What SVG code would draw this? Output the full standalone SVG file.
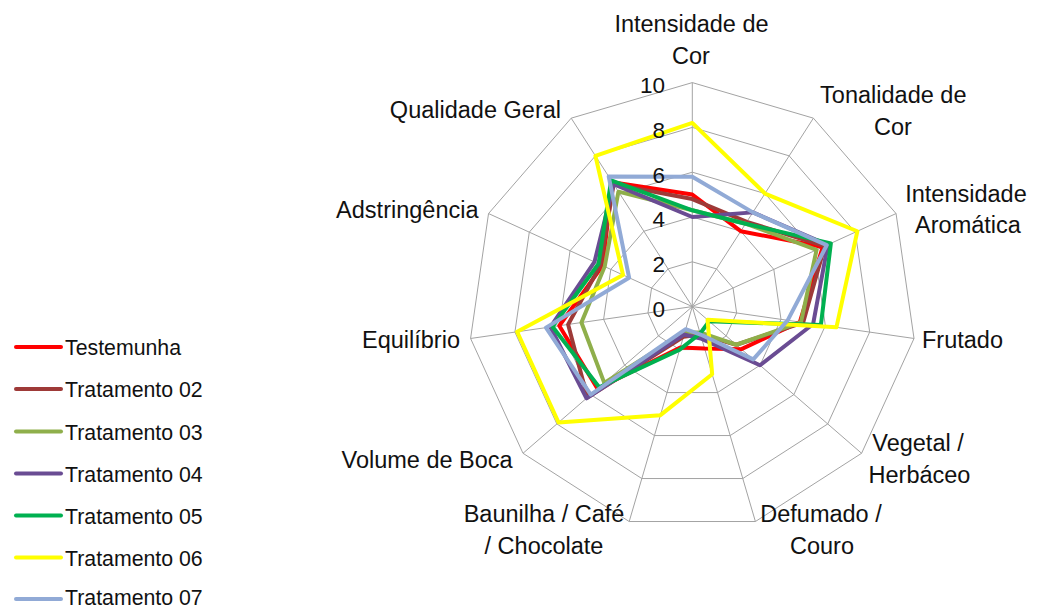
<svg xmlns="http://www.w3.org/2000/svg" width="1040" height="609" viewBox="0 0 1040 609">
<style>
text{font-family:"Liberation Sans",Arial,sans-serif;fill:#111}
.lab{font-size:23.5px}
.mid{text-anchor:middle}
.end{text-anchor:end}
.tick{font-size:22.5px;text-anchor:end}
.leg{font-size:21.3px}
.grid{fill:none;stroke:#A3A3A3;stroke-width:1}
.s{fill:none;stroke-width:4;stroke-linejoin:round}
</style>
<rect width="1040" height="609" fill="#fff"/>
<g id="grid" transform="translate(692.3,306.6)">
<polygon class="grid" points="0,-44.8 24.22,-37.69 40.75,-18.61 44.34,6.38 33.86,29.34 12.62,42.99 -12.62,42.99 -33.86,29.34 -44.34,6.38 -40.75,-18.61 -24.22,-37.69"/>
<polygon class="grid" points="0,-89.6 48.44,-75.38 81.5,-37.22 88.69,12.75 67.72,58.68 25.24,85.97 -25.24,85.97 -67.72,58.68 -88.69,12.75 -81.5,-37.22 -48.44,-75.38"/>
<polygon class="grid" points="0,-134.4 72.66,-113.06 122.26,-55.83 133.03,19.13 101.57,88.01 37.87,128.96 -37.87,128.96 -101.57,88.01 -133.03,19.13 -122.26,-55.83 -72.66,-113.06"/>
<polygon class="grid" points="0,-179.2 96.88,-150.75 163.01,-74.44 177.38,25.5 135.43,117.35 50.49,171.94 -50.49,171.94 -135.43,117.35 -177.38,25.5 -163.01,-74.44 -96.88,-150.75"/>
<polygon class="grid" points="0,-224 121.1,-188.44 203.76,-93.05 221.72,31.88 169.29,146.69 63.11,214.93 -63.11,214.93 -169.29,146.69 -221.72,31.88 -203.76,-93.05 -121.1,-188.44"/>
<path class="grid" d="M0,0V-224M0,0L121.1,-188.44M0,0L203.76,-93.05M0,0L221.72,31.88M0,0L169.29,146.69M0,0L63.11,214.93M0,0L-63.11,214.93M0,0L-169.29,146.69M0,0L-221.72,31.88M0,0L-203.76,-93.05M0,0L-121.1,-188.44"/>
</g>
<g id="axis-labels">
<text class="lab mid" x="691.5" y="31.7">Intensidade de</text>
<text class="lab mid" x="691" y="63.5">Cor</text>
<text class="lab mid" x="893.3" y="103.3">Tonalidade de</text>
<text class="lab mid" x="893" y="135">Cor</text>
<text class="lab mid" x="966" y="201.7">Intensidade</text>
<text class="lab mid" x="968" y="233.3">Aromática</text>
<text class="lab" x="922" y="348">Frutado</text>
<text class="lab mid" x="918" y="451">Vegetal /</text>
<text class="lab mid" x="919.5" y="483">Herbáceo</text>
<text class="lab mid" x="821" y="522">Defumado /</text>
<text class="lab mid" x="822" y="554">Couro</text>
<text class="lab mid" x="544" y="522">Baunilha / Café</text>
<text class="lab mid" x="544" y="554">/ Chocolate</text>
<text class="lab end" x="512.7" y="468">Volume de Boca</text>
<text class="lab end" x="460" y="348">Equilíbrio</text>
<text class="lab end" x="478.5" y="218.3">Adstringência</text>
<text class="lab end" x="561" y="118.3">Qualidade Geral</text>
</g>
<g id="series" transform="translate(692.3,306.6)">
<polygon id="testemunha" class="s" stroke="#FF0000" points="0,-112 48.44,-75.38 130.41,-59.55 107.53,15.46 49.09,42.54 12.31,41.91 -11.99,40.84 -94.8,82.15 -133.03,19.13 -89.65,-40.94 -79.93,-124.37"/>
<polygon id="tratamento02" class="s" stroke="#9E3A38" points="0,-107.52 54.5,-84.8 132.44,-60.48 110.86,15.94 44.02,38.14 8.2,27.94 -8.84,30.09 -104.96,90.95 -124.16,17.85 -91.69,-41.87 -78.72,-122.49"/>
<polygon id="tratamento03" class="s" stroke="#8FAF4B" points="0,-96.32 53.28,-82.91 124.29,-56.76 108.64,15.62 44.02,38.14 7.57,25.79 -7.57,25.79 -88.03,76.28 -110.86,15.94 -87.62,-40.01 -73.87,-114.95"/>
<polygon id="tratamento04" class="s" stroke="#6A4C93" points="0,-89.6 60.55,-94.22 135.5,-61.88 120.84,17.37 67.72,58.68 9.47,32.24 -8.2,27.94 -105.81,91.68 -141.9,20.4 -97.8,-44.66 -78.72,-122.49"/>
<polygon id="tratamento05" class="s" stroke="#00B050" points="0,-96.32 53.28,-82.91 138.56,-63.27 128.6,18.49 16.93,14.67 7.89,26.87 -12.62,42.99 -93.11,80.68 -139.68,20.08 -93.73,-42.8 -81.14,-126.25"/>
<polygon id="tratamento06" class="s" stroke="#FFFF00" points="0,-183.68 72.66,-113.06 165.05,-75.37 144.12,20.72 15.24,13.2 19.88,67.7 -31.87,108.54 -133.74,115.89 -175.16,25.19 -69.28,-31.64 -96.88,-150.75"/>
<polygon id="tratamento07" class="s" stroke="#91AAD6" points="0,-129.92 60.55,-94.22 134.48,-61.41 95.34,13.71 60.94,52.81 8.2,27.94 -6.63,22.57 -101.57,88.01 -146.34,21.04 -63.17,-28.85 -83.56,-130.02"/>
</g>
<g id="ticks">
<text class="tick" x="665" y="93">10</text>
<text class="tick" x="665" y="137.8">8</text>
<text class="tick" x="665" y="182.6">6</text>
<text class="tick" x="665" y="227.4">4</text>
<text class="tick" x="665" y="272.2">2</text>
<text class="tick" x="665" y="317">0</text>
</g>
<g id="legend">
<g stroke-width="4" stroke-linecap="round">
<line x1="16" y1="347" x2="61" y2="347" stroke="#FF0000"/>
<line x1="16" y1="389" x2="61" y2="389" stroke="#9E3A38"/>
<line x1="16" y1="431.5" x2="61" y2="431.5" stroke="#8FAF4B"/>
<line x1="16" y1="473.5" x2="61" y2="473.5" stroke="#6A4C93"/>
<line x1="16" y1="515.5" x2="61" y2="515.5" stroke="#00B050"/>
<line x1="16" y1="557.5" x2="61" y2="557.5" stroke="#FFFF00"/>
<line x1="16" y1="599" x2="61" y2="599" stroke="#91AAD6"/>
</g>
<text class="leg" x="65" y="355">Testemunha</text>
<text class="leg" x="65" y="397">Tratamento 02</text>
<text class="leg" x="65" y="439.5">Tratamento 03</text>
<text class="leg" x="65" y="481.5">Tratamento 04</text>
<text class="leg" x="65" y="523.5">Tratamento 05</text>
<text class="leg" x="65" y="565.5">Tratamento 06</text>
<text class="leg" x="65" y="605">Tratamento 07</text>
</g>
</svg>
